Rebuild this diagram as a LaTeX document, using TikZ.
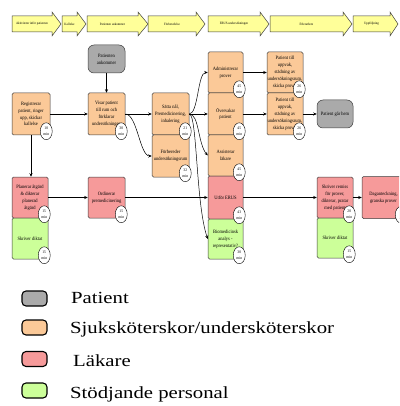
\documentclass[tikz,border=0pt]{standalone}
\usepackage{fontspec}
\setmainfont{Liberation Serif}
\newfontfamily\boxfont{Liberation Serif}[FakeStretch=0.9]
\newfontfamily\legfont{Liberation Serif}[FakeStretch=1.22]
\usetikzlibrary{arrows.meta,shapes.geometric}

\definecolor{cgray}{RGB}{170,170,170}
\definecolor{corange}{RGB}{251,201,152}
\definecolor{cred}{RGB}{246,154,154}
\definecolor{cgreen}{RGB}{204,255,153}
\definecolor{cyellow}{RGB}{255,255,153}
\definecolor{boxline}{RGB}{60,60,60}

\tikzset{
  x=1pt, y=-1pt,
  box/.style={draw=boxline, line width=0.5pt, rounded corners=1.5pt, align=center,
              inner sep=0.5pt, font=\boxfont\fontsize{5}{6.9}\selectfont},
  wh/.style 2 args={minimum width=#1pt, minimum height=#2pt},
  tbadge/.style={draw=black, fill=white, ellipse, line width=0.4pt,
                 minimum width=12pt, minimum height=17pt, inner sep=0pt, align=center,
                 font=\boxfont\fontsize{4}{5.2}\selectfont},
  flow/.style={draw=black, line width=0.5pt, -{Stealth[length=3.5pt,width=3pt]}},
  chev/.style={fill=cyellow, draw=boxline, line width=0.5pt},
  chevtext/.style={font=\boxfont\fontsize{3.4}{4}\selectfont, inner sep=0pt},
  legicon/.style={draw=black, line width=1.1pt, rounded corners=4pt,
                  minimum width=25pt, minimum height=15pt, inner sep=0pt},
  legtext/.style={anchor=base west, inner sep=0pt, font=\legfont\fontsize{17}{20}\selectfont}
}

\begin{document}
\begin{tikzpicture}
\useasboundingbox (0,0) rectangle (399,406);
\clip (0,0) rectangle (399,406);

% phase chevrons along the top
\foreach \a/\b/\c/\t [count=\i] in {
  12/52/61/{Aktiviteter inför patienten},
  62/77/86/{Kallelse},
  87/138/148/{Patienten ankommer},
  148/196/205/{Förberedelse},
  208/260/269/{ERUS-undersökningen},
  270/343/352/{Efterarbete},
  353/390/398/{Uppföljning}} {
  \draw[chev] (\a,16) -- (\b,16) -- (\b,12) -- (\c,24) -- (\b,36) -- (\b,32) -- (\a,32) -- cycle;
  \node[chevtext] (phase\i) at ({(\a+\b)/2},24) {\t};
}

% activity boxes
\node[box, fill=cgray, rounded corners=6pt, wh={37}{28}] (arrive) at (106.5,59) {Patienten\\ankommer};
\node[box, fill=corange, wh={38}{42}] (reg) at (31,114) {Registrerar\\patient, ringer\\upp, skickar\\kallelse};
\node[box, fill=corange, wh={37}{42}] (show) at (106.5,114) {Visar patient\\till rum och\\förklarar\\undersökningen};
\node[box, fill=corange, wh={37}{42}] (needle) at (170.5,114) {Sätta nål,\\Premedicinering,\\inhalering};
\node[box, fill=corange, wh={37}{42}] (prep) at (170.5,156) {Förbereder\\undersökningsrum};
\node[box, fill=corange, wh={35}{41}] (admin) at (225.5,72.5) {Administrerar\\prover};
\node[box, fill=corange, wh={35}{42}] (watch) at (225.5,114) {Övervakar\\patient};
\node[box, fill=corange, wh={35}{41}] (assist) at (225.5,155.5) {Assisterar\\läkare};
\node[box, fill=cred, wh={35}{43}] (erus) at (225.5,197.5) {Utför ERUS};
\node[box, fill=cgreen, wh={35}{40}] (bio) at (225.5,239) {Biomedicinsk\\analys -\\representativ?};
\node[box, fill=corange, wh={36}{41}] (wake1) at (285,72.5) {Patient till\\uppvak,\\städning av\\undersökningsrum,\\skicka prover};
\node[box, fill=corange, wh={36}{42}] (wake2) at (285,114) {Patient till\\uppvak,\\städning av\\undersökningsrum,\\skicka prover};
\node[box, fill=cgray, rounded corners=6pt, wh={36}{28}] (home) at (335,114) {Patient går hem};
\node[box, fill=cred, wh={36}{41}] (plan) at (30,197.5) {Planerar åtgärd\\\& dikterar\\planerad\\åtgärd};
\node[box, fill=cgreen, wh={36}{41}] (dict1) at (30,238.5) {Skriver diktat};
\node[box, fill=cred, wh={37}{41}] (order) at (106.5,197.5) {Ordinerar\\premedicinering};
\node[box, fill=cred, wh={36}{41}] (refer) at (335,197.5) {Skriver remiss\\för prover,\\dikterar, pratar\\med patient};
\node[box, fill=cgreen, wh={36}{40}] (dict2) at (335,238) {Skriver diktat};
\node[box, fill=cred, wh={43}{42}] (note) at (383.5,197.5) {Daganteckning,\\granska prover};

% flow between activities
\draw[flow] (arrive) -- (show);
\draw[flow] (reg) -- (show);
\draw[flow] (reg.south) -- (reg.south |- plan.north);
\draw[flow] (show) -- (needle);
\draw[flow] (show.east) .. controls +(12,0) and +(-12,0) .. (prep.west);
\draw[flow] (needle.east) .. controls +(9,0) and +(-10,0) .. (admin.west);
\draw[flow] (needle) -- (watch);
\draw[flow] (needle.east) .. controls +(10,0) and +(-10,-12) .. (assist.west);
\draw[flow] (needle.east) .. controls +(8,0) and +(-12,-35) .. (bio.west);
\draw[flow] (admin) -- (wake1);
\draw[flow] (watch) -- (wake2);
\draw[flow] (wake2) -- (home);
\draw[flow] (plan) -- (order);
\draw[flow] (order) -- (erus);
\draw[flow] (erus) -- (refer);
\draw[flow] (refer) -- (note);

% time badges
\foreach \n/\t in {reg/10, show/30, needle/21, prep/32, admin/45, watch/45, assist/45,
                   erus/43, bio/30, wake1/26, wake2/26, plan/15, dict1/15, order/15,
                   refer/20, dict2/15} {
  \node[tbadge] (\n-time) at ([shift={(-4,-4)}]\n.south east) {\t\\min};
}
% badge of the last box runs past the right edge
\node[tbadge] (note-time) at ([shift={(-4,-4)}]note.south east) {};

% legend
\node[legicon, fill=cgray]   (key1) at (34.5,298.5) {};
\node[legicon, fill=corange] (key2) at (34.5,327.5) {};
\node[legicon, fill=cred]    (key3) at (34.5,359) {};
\node[legicon, fill=cgreen]  (key4) at (34.5,390.5) {};
\node[legtext] (keytext1) at (71,303) {Patient};
\node[legtext] (keytext2) at (70,333) {Sjuksköterskor/undersköterskor};
\node[legtext] (keytext3) at (73,366) {Läkare};
\node[legtext] (keytext4) at (70,398) {Stödjande personal};
\end{tikzpicture}
\end{document}
